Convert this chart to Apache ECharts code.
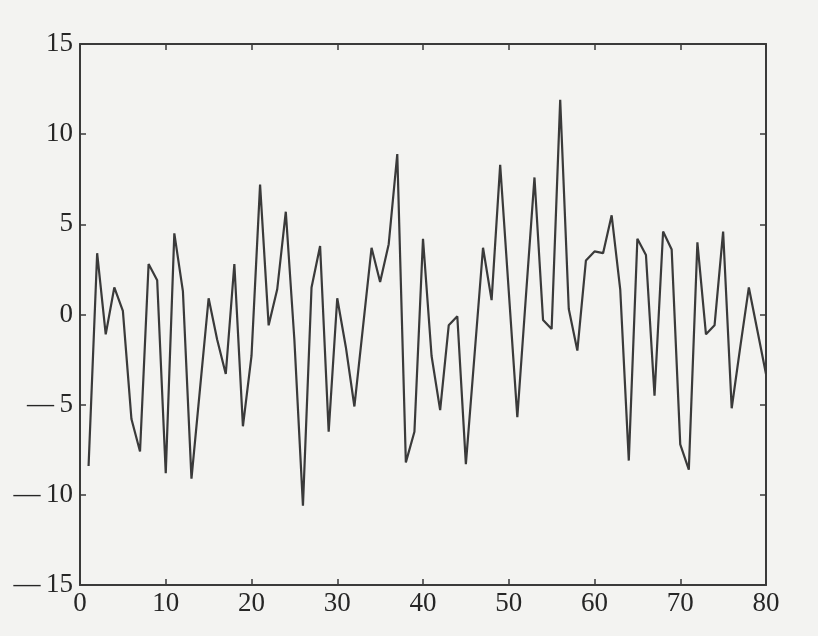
<!DOCTYPE html>
<html>
<head>
<meta charset="utf-8">
<script src="https://cdn.jsdelivr.net/npm/echarts@6/dist/echarts.min.js"></script>
<style>
html,body{margin:0;padding:0;background:#f3f3f1;}
#chart{width:818px;height:636px;}
</style>
</head>
<body>
<div id="chart"></div>
<script>
var timeSteps = [1,2,3,4,5,6,7,8,9,10,11,12,13,14,15,16,17,18,19,20,
  21,22,23,24,25,26,27,28,29,30,31,32,33,34,35,36,37,38,39,40,
  41,42,43,44,45,46,47,48,49,50,51,52,53,54,55,56,57,58,59,60,
  61,62,63,64,65,66,67,68,69,70,71,72,73,74,75,76,77,78,79,80];
var seriesValues = [-8.4,3.4,-1.1,1.5,0.2,-5.8,-7.6,2.8,1.9,-8.8,
  4.5,1.3,-9.1,-4.1,0.9,-1.4,-3.3,2.8,-6.2,-2.3,
  7.2,-0.6,1.4,5.7,-1.4,-10.6,1.5,3.8,-6.5,0.9,
  -1.8,-5.1,-0.7,3.7,1.8,3.9,8.9,-8.2,-6.5,4.2,
  -2.3,-5.3,-0.6,-0.1,-8.3,-2.3,3.7,0.8,8.3,1.3,
  -5.7,1.0,7.6,-0.3,-0.8,11.9,0.3,-2.0,3.0,3.5,
  3.4,5.5,1.4,-8.1,4.2,3.3,-4.5,4.6,3.6,-7.2,
  -8.6,4.0,-1.1,-0.6,4.6,-5.2,-1.8,1.5,-0.9,-3.3];
var xTickLabels = [0,10,20,30,40,50,60,70,80];
var yTickLabels = [-15,-10,-5,0,5,10,15];

var chart = echarts.init(document.getElementById('chart'));
var points = timeSteps.map(function(t,i){return [t, seriesValues[i]];});
var fontFam = '"Liberation Serif","DejaVu Serif",serif';
var axisLineStyle = {color:'#3a3a3a', width:2};
var tickStyle = {show:true, inside:true, length:6, lineStyle:{color:'#3a3a3a', width:1.5}};
function fmtY(v){ return v < 0 ? '\u2014\u2009' + Math.abs(v) : String(v); }

chart.setOption({
  backgroundColor:'#f3f3f1',
  animation:false,
  grid:{left:80, right:52, top:44, bottom:51, show:false},
  xAxis:[{
    type:'value', position:'bottom',
    min:xTickLabels[0], max:xTickLabels[xTickLabels.length-1], interval:10,
    axisLine:{show:true, onZero:false, lineStyle:axisLineStyle},
    axisTick:tickStyle,
    axisLabel:{color:'#262626', fontFamily:fontFam, fontSize:27, margin:5},
    splitLine:{show:false}
  },{
    type:'value', position:'top',
    min:xTickLabels[0], max:xTickLabels[xTickLabels.length-1], interval:10,
    axisLine:{show:true, onZero:false, lineStyle:axisLineStyle},
    axisTick:tickStyle,
    axisLabel:{show:false},
    splitLine:{show:false}
  }],
  yAxis:[{
    type:'value', position:'left',
    min:yTickLabels[0], max:yTickLabels[yTickLabels.length-1], interval:5,
    axisLine:{show:true, onZero:false, lineStyle:axisLineStyle},
    axisTick:tickStyle,
    axisLabel:{color:'#262626', fontFamily:fontFam, fontSize:27, margin:7, formatter:fmtY},
    splitLine:{show:false}
  },{
    type:'value', position:'right',
    min:yTickLabels[0], max:yTickLabels[yTickLabels.length-1], interval:5,
    axisLine:{show:true, onZero:false, lineStyle:axisLineStyle},
    axisTick:tickStyle,
    axisLabel:{show:false},
    splitLine:{show:false}
  }],
  series:[{
    type:'line',
    xAxisIndex:0, yAxisIndex:0,
    data:points,
    showSymbol:false,
    smooth:false,
    lineStyle:{color:'#3a3a3a', width:2.2},
    emphasis:{disabled:true}
  }]
});
</script>
</body>
</html>
